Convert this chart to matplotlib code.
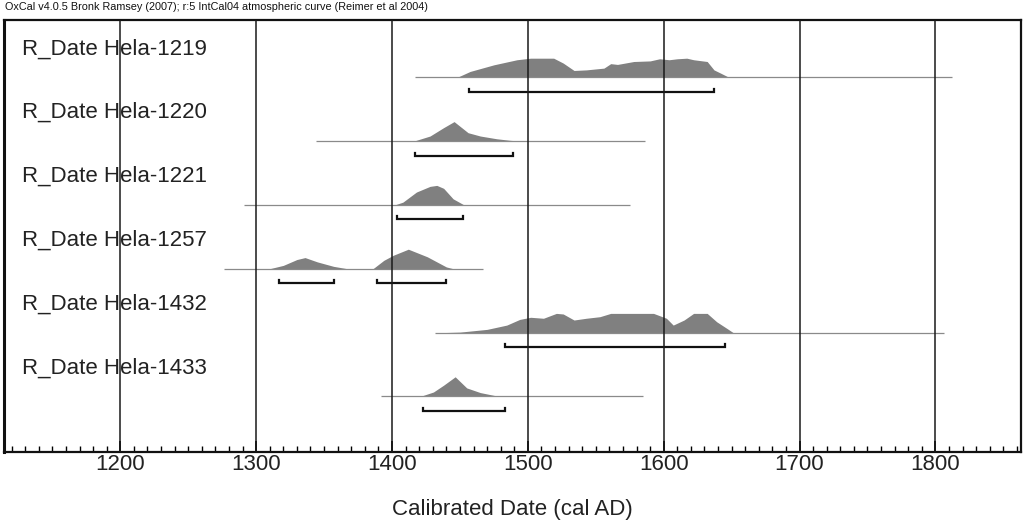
import matplotlib
matplotlib.use("Agg")
import matplotlib.pyplot as plt
import matplotlib.transforms as mtransforms

# ---------------- data ----------------
names = ["R_Date Hela-1219", "R_Date Hela-1220", "R_Date Hela-1221",
         "R_Date Hela-1257", "R_Date Hela-1432", "R_Date Hela-1433"]

line_start = [1417, 1344, 1291, 1276, 1432, 1392]
line_end = [1812, 1586, 1575, 1467, 1806, 1585]

# 95.4% ranges (cal AD)
ranges95 = [
    [(1457, 1637)],
    [(1417, 1489)],
    [(1404, 1452)],
    [(1317, 1357), (1389, 1440)],
    [(1483, 1645)],
    [(1423, 1483)],
]

# probability distributions (relative probability)
dist_years = [
    [1448, 1457.5, 1475, 1492, 1502, 1519, 1526, 1534, 1543, 1556, 1561, 1566,
     1578, 1590, 1597, 1604, 1610, 1617, 1622, 1632, 1637, 1642, 1648],
    [1416, 1428, 1438, 1445.7, 1456, 1465, 1477, 1487, 1495],
    [1402, 1408, 1418, 1428, 1433, 1438, 1445, 1453],
    [1310, 1320, 1330, 1336, 1345, 1357, 1367, 1386, 1394, 1401, 1412, 1426,
     1440, 1445],
    [1440, 1450, 1470, 1484.5, 1494, 1502, 1511.5, 1521, 1526, 1534, 1543,
     1553, 1561, 1592.5, 1602, 1607, 1615, 1622, 1632, 1639, 1646.5, 1651],
    [1421, 1430.5, 1438, 1446.5, 1455, 1465, 1477, 1485],
]
dist_prob = [
    [0, .30, .64, .90, .98, .98, .73, .35, .38, .47, .70, .66, .81, .84, .95,
     .90, .95, .98, .90, .81, .38, .21, 0],
    [0, .26, .69, 1.0, .43, .26, .12, .04, 0],
    [0, .14, .66, .95, 1.0, .85, .31, 0],
    [0, .17, .47, .57, .35, .12, 0, 0, .43, .69, 1.0, .61, .09, 0],
    [0, .02, .16, .38, .67, .78, .73, .98, .95, .64, .73, .81, .98, .98, .73,
     .38, .64, .98, .98, .55, .21, 0],
    [0, .22, .57, 1.0, .43, .19, .02, 0],
]

grid_years = [1200, 1300, 1400, 1500, 1600, 1700, 1800]
minor_years = list(range(1120, 1861, 10))

title = ("OxCal v4.0.5 Bronk Ramsey (2007); r:5 IntCal04 atmospheric curve "
         "(Reimer et al 2004)")
xlabel = "Calibrated Date (cal AD)"

# ---------------- plot ----------------
plt.rcParams["font.family"] = ["Liberation Sans", "DejaVu Sans"]
W, H = 1026, 524
fig = plt.figure(figsize=(W / 100, H / 100), dpi=100)
ax = fig.add_axes([4 / W, 1 - 452 / H, (1021 - 4) / W, (452 - 20) / H])

row_px = 63.8
ax.set_xlim(1114.4, 1863)
ax.set_ylim((452 - 77.3) / row_px, (20 - 77.3) / row_px)

peak = 19.5 / row_px
brk_off = 14.5 / row_px
brk_tick = 3.0 / row_px
label_off = 28.5 / row_px

trans = mtransforms.blended_transform_factory(ax.transAxes, ax.transData)

for i, name in enumerate(names):
    y = i
    ax.plot([line_start[i], line_end[i]], [y, y], color="#8a8a8a", lw=0.9,
            zorder=2, solid_capstyle="butt")
    top = [y - p * peak for p in dist_prob[i]]
    ax.fill_between(dist_years[i], top, y, color="#808080", lw=0, zorder=1)
    for a, b in ranges95[i]:
        yb = y + brk_off
        ax.plot([a, a, b, b], [yb - brk_tick, yb, yb, yb - brk_tick],
                color="#111111", lw=1.6, zorder=3, solid_joinstyle="miter")
    ax.text(0.0174, y - label_off, name, transform=trans, fontsize=16,
            color="#222222", va="center", ha="left", zorder=3)

for g in grid_years:
    ax.axvline(g, color="#1a1a1a", lw=1.1, zorder=4)

ax.set_xticks(grid_years)
ax.set_xticks(minor_years, minor=True)
ax.set_yticks([])
ax.tick_params(axis="x", which="major", direction="in", length=8, width=1.3,
               labelsize=16, labelcolor="#222222", pad=1.5)
ax.tick_params(axis="x", which="minor", direction="in", length=4, width=1.0)
for s in ax.spines.values():
    s.set_linewidth(1.6)
    s.set_color("#111111")
ax.spines["left"].set_linewidth(2.2)

ax.set_xlabel(xlabel, fontsize=16, color="#222222", labelpad=17)
fig.text(5 / W, 1 - 7 / H, title, fontsize=7.8, va="center", ha="left",
         color="#111111")

fig.savefig("out.png", dpi=100)
